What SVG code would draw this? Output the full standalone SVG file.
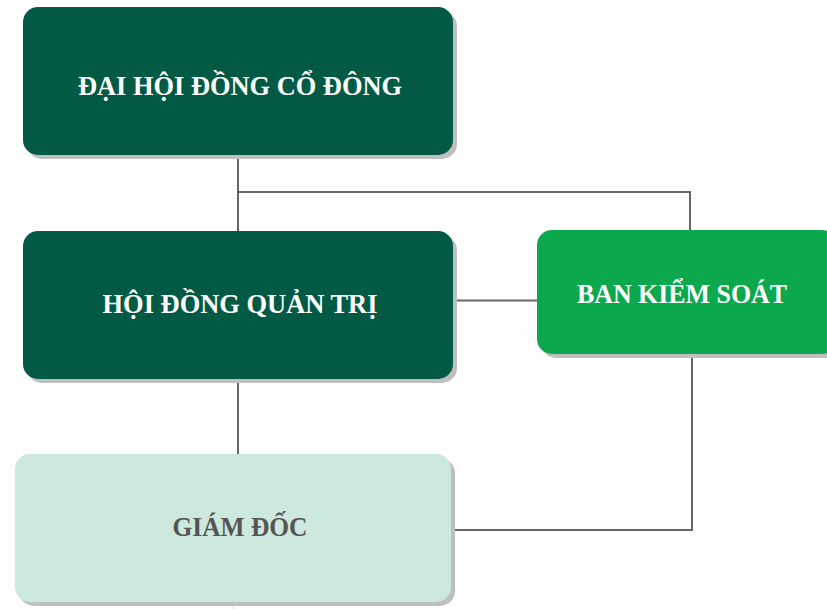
<svg xmlns="http://www.w3.org/2000/svg" width="827" height="609" viewBox="0 0 827 609">
<style>
.sh{fill:#bfbfbf}
.t{font-family:"Liberation Serif","DejaVu Serif",serif;font-weight:bold;font-size:27px;text-anchor:middle}
.w{fill:#ffffff}
.g{fill:#555555}
.c{stroke:#666666;stroke-width:2;fill:none}
</style>
<rect width="827" height="609" fill="#ffffff"/>
<g id="connectors">
<polyline class="c" points="238,155 238,231"/>
<polyline class="c" points="238,192 690,192 690,231"/>
<polyline class="c" points="453,300.5 537,300.5"/>
<polyline class="c" points="238,379 238,454"/>
<polyline class="c" points="692,356 692,530 452,530"/>
<line x1="233" y1="602" x2="233" y2="609" stroke="#f0f0f0" stroke-width="2"/>
</g>
<g id="dhdcd">
<rect class="sh" x="27" y="11" width="430" height="148" rx="15"/>
<rect x="23" y="7" width="430" height="148" rx="15" fill="#035A44"/>
<text class="t w" x="240" y="95" textLength="324" lengthAdjust="spacingAndGlyphs">ĐẠI HỘI ĐỒNG CỔ ĐÔNG</text>
</g>
<g id="hdqt">
<rect class="sh" x="27" y="235" width="430" height="148" rx="15"/>
<rect x="23" y="231" width="430" height="148" rx="15" fill="#035A44"/>
<text class="t w" x="240" y="313" textLength="275" lengthAdjust="spacingAndGlyphs">HỘI ĐỒNG QUẢN TRỊ</text>
</g>
<g id="bks">
<rect class="sh" x="541" y="234" width="300" height="124" rx="15"/>
<rect x="537" y="230" width="300" height="124" rx="15" fill="#0BA84E"/>
<text class="t w" x="682" y="303" textLength="210" lengthAdjust="spacingAndGlyphs">BAN KIỂM SOÁT</text>
</g>
<g id="gd">
<rect class="sh" x="19" y="458" width="436" height="148" rx="15"/>
<rect x="15" y="454" width="436" height="148" rx="15" fill="#CDE8DC"/>
<text class="t g" x="240" y="536" textLength="135" lengthAdjust="spacingAndGlyphs">GIÁM ĐỐC</text>
</g>
</svg>
